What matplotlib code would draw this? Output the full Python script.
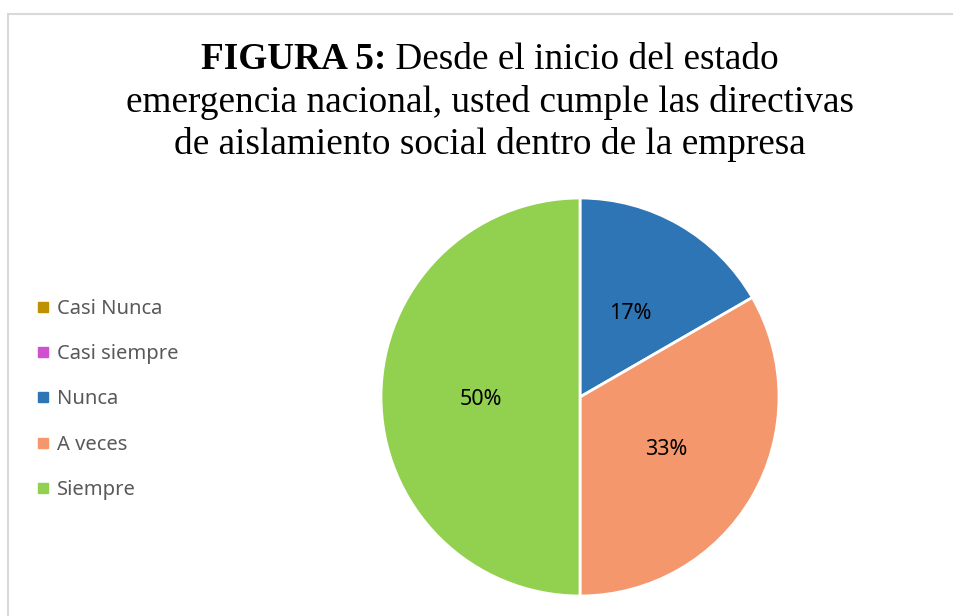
import matplotlib
matplotlib.use("Agg")
import matplotlib.pyplot as plt
from matplotlib.lines import Line2D
from matplotlib.patches import Rectangle

# datos de la figura
categorias = ["Casi Nunca", "Casi siempre", "Nunca", "A veces", "Siempre"]
valores = [0, 0, 1, 2, 3]
colores = ["#BF9000", "#D14FD1", "#2E75B6", "#F4976C", "#92D050"]

titulo_negrita = "FIGURA 5:"
titulo_lineas = [" Desde el inicio del estado",
                 "emergencia nacional, usted cumple las directivas",
                 "de aislamiento social dentro de la empresa"]

W, H = 954, 616
fig = plt.figure(figsize=(W / 100, H / 100), dpi=100)
fig.patch.set_facecolor("white")

# marco del area del grafico (gris claro)
fig.patches.append(Rectangle((8 / W, -0.1), 1.2, 1 - 14 / H + 0.1,
                             transform=fig.transFigure, fill=False,
                             edgecolor="#D9D9D9", linewidth=1.5))

# --- titulo ---
serif = ["Liberation Serif", "DejaVu Serif"]
fs_t = 26.8
renderer = fig.canvas.get_renderer()
t1 = fig.text(0, 0, titulo_negrita, fontsize=fs_t, fontweight="bold", family=serif)
t2 = fig.text(0, 0, titulo_lineas[0], fontsize=fs_t, family=serif)
w1 = t1.get_window_extent(renderer).width
w2 = t2.get_window_extent(renderer).width
cx = 490
x0 = cx - (w1 + w2) / 2
y1 = 1 - 69 / H
t1.set_position((x0 / W, y1)); t1.set_va("baseline")
t2.set_position(((x0 + w1) / W, y1)); t2.set_va("baseline")
fig.text(cx / W, 1 - 112 / H, titulo_lineas[1], fontsize=fs_t, family=serif,
         ha="center", va="baseline")
fig.text(cx / W, 1 - 154 / H, titulo_lineas[2], fontsize=fs_t, family=serif,
         ha="center", va="baseline")

# --- pastel ---
r = 199
cxp, cyp = 580, 397
ax = fig.add_axes([(cxp - r) / W, 1 - (cyp + r) / H, 2 * r / W, 2 * r / H])


def fmt_pct(p):
    return f"{p:.0f}%" if p > 0.5 else ""


wedges, textos, autotextos = ax.pie(
    valores, colors=colores, startangle=90, counterclock=False,
    autopct=fmt_pct, pctdistance=0.5, radius=1,
    wedgeprops=dict(edgecolor="white", linewidth=2),
    textprops=dict(fontsize=15.5, color="black", family=["Noto Sans", "DejaVu Sans"]))
for t in autotextos:
    t.set_va("center_baseline")
ax.set_xlim(-1, 1)
ax.set_ylim(-1, 1)
ax.set_aspect("equal")
ax.axis("off")

# --- leyenda ---
manejadores = [Line2D([], [], marker="s", linestyle="none", markersize=6.5,
                      markerfacecolor=c, markeredgecolor=c) for c in colores]
leg = fig.legend(manejadores, categorias, loc="upper left",
                 bbox_to_anchor=(18 / W, 1 - 281 / H), frameon=False,
                 handlelength=0.7, handletextpad=0.34, labelspacing=1.25,
                 prop=dict(family=["Noto Sans", "DejaVu Sans"], size=14.5))
for t in leg.get_texts():
    t.set_color("#595959")

fig.savefig("out.png", dpi=100)
